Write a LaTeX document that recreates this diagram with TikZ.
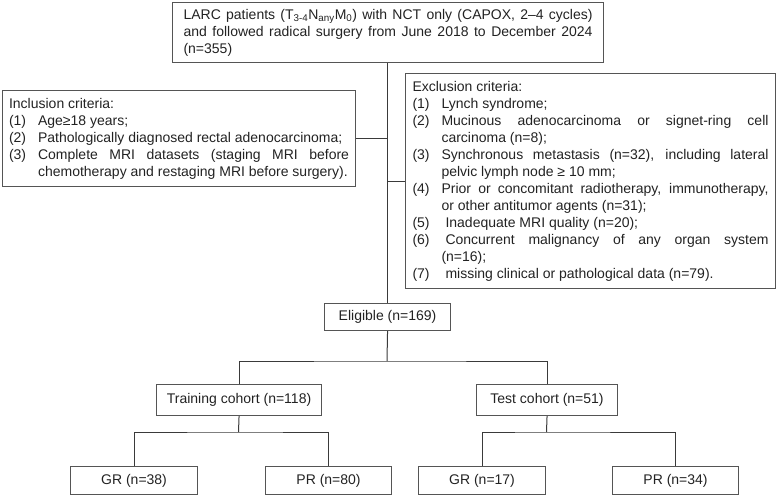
\documentclass[tikz,border=0pt]{standalone}
\usepackage{fontspec}
\setmainfont{Liberation Sans}
\definecolor{boxgray}{HTML}{555555}
\definecolor{linegray}{HTML}{3A3A3A}
\definecolor{txt}{HTML}{222222}
\newcommand\itm[2]{\par\noindent\hangindent=29pt\hangafter=1\makebox[29pt][l]{#1}#2}
\begin{document}
\begin{tikzpicture}[x=1pt,y=-1pt,
  box/.style={draw=boxgray, line width=1.1pt, rectangle, anchor=north west, inner xsep=7pt, inner ysep=0pt, text=txt,
    font=\fontsize{14}{17}\selectfont},
  tbox/.style={box, align=justify},
  sbox/.style={box, align=center, inner xsep=0pt},
  conn/.style={draw=linegray, line width=1pt}]
\useasboundingbox (0,0) rectangle (777,495);

\node[tbox, inner xsep=11pt, text width=409pt, minimum height=60pt] (top) at (172,2)
 {\noindent LARC patients (T\textsubscript{3-4}N\textsubscript{any}M\textsubscript{0}) with NCT only (CAPOX, 2--4 cycles)\linebreak and followed radical surgery from June 2018 to December 2024\linebreak (n=355)\par};

\node[tbox, inner xsep=6.5pt, text width=340pt, minimum height=96pt] (incl) at (2,90)
 {\noindent Inclusion criteria:
  \itm{(1)}{Age≥18 years;}
  \itm{(2)}{Pathologically diagnosed rectal adenocarcinoma;}
  \itm{(3)}{Complete MRI datasets (staging MRI before\linebreak chemotherapy and restaging MRI before surgery).}\par};

\node[tbox, text width=356pt, minimum height=215pt] (excl) at (405,73)
 {\noindent Exclusion criteria:
  \itm{(1)}{Lynch syndrome;}
  \itm{(2)}{Mucinous adenocarcinoma or signet-ring cell\linebreak carcinoma (n=8);}
  \itm{(3)}{Synchronous metastasis (n=32), including lateral\linebreak pelvic lymph node ≥ 10 mm;}
  \itm{(4)}{Prior or concomitant radiotherapy, immunotherapy,\linebreak or other antitumor agents (n=31);}
  \itm{(5)}{\hspace{4pt}Inadequate MRI quality (n=20);}
  \itm{(6)}{\hspace{4pt}Concurrent malignancy of any organ system\linebreak (n=16);}
  \itm{(7)}{\hspace{4pt}missing clinical or pathological data (n=79).}\par};

\node[sbox, minimum width=126pt, minimum height=27pt] (elig) at (324,303) {Eligible (n=169)};
\node[sbox, minimum width=165pt, minimum height=31pt] (train) at (156,384) {Training cohort (n=118)};
\node[sbox, minimum width=141pt, minimum height=31pt] (test) at (476,384) {Test cohort (n=51)};
\node[sbox, minimum width=127pt, minimum height=28pt] (gr1) at (70,466) {GR (n=38)};
\node[sbox, minimum width=126pt, minimum height=28pt] (pr1) at (265,466) {PR (n=80)};
\node[sbox, minimum width=127pt, minimum height=28pt] (gr2) at (418,466) {GR (n=17)};
\node[sbox, minimum width=126pt, minimum height=28pt] (pr2) at (612,466) {PR (n=34)};

\coordinate (b1) at (387,361);
\coordinate (b2) at (238.5,432);
\coordinate (b3) at (546.5,432);

\draw[conn] (elig.north |- top.south) -- (elig.north);
\draw[conn] (incl.east) -- (incl.east -| elig.north);
\draw[conn] (excl.west) -- (excl.west -| elig.north);
\draw[conn] (elig.south) -- (b1);
\draw[conn] (train.north) |- (b1) -| (test.north);
\draw[conn] (train.south) -- (b2);
\draw[conn] (gr1.north) |- (b2) -| (pr1.north);
\draw[conn] (test.south) -- (b3);
\draw[conn] (gr2.north) |- (b3) -| (pr2.north);
\end{tikzpicture}
\end{document}
